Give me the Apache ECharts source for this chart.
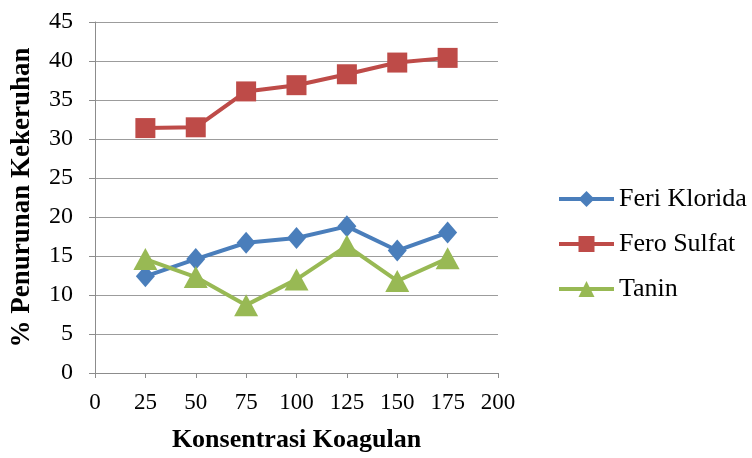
<!DOCTYPE html>
<html>
<head>
<meta charset="utf-8">
<script src="https://cdn.jsdelivr.net/npm/echarts@6/dist/echarts.min.js"></script>
<style>
html,body{margin:0;padding:0;background:#fff;}
#c{width:752px;height:458px;}
</style>
</head>
<body>
<div id="c"></div>
<script>
var xValues = [25, 50, 75, 100, 125, 150, 175];
var feriKlorida = [12.4, 14.6, 16.7, 17.3, 18.8, 15.7, 18.0];
var feroSulfat = [31.4, 31.5, 36.1, 36.9, 38.3, 39.8, 40.4];
var tanin = [14.6, 12.3, 8.7, 12.0, 16.3, 11.8, 14.7];
var seriesNames = ['Feri Klorida', 'Fero Sulfat', 'Tanin'];

function pairs(vals){ return xValues.map(function(x,i){ return [x, vals[i]]; }); }

var font = 'Liberation Serif, Times New Roman, serif';
var chart = echarts.init(document.getElementById('c'));
chart.setOption({
  animation:false,
  backgroundColor:'#fff',
  grid:{left:95,right:254,top:22,bottom:83},
  legend:{
    orient:'vertical', left:557, top:186, itemGap:19, padding:0,
    itemWidth:55, itemHeight:20,
    lineStyle:{width:4},
    textStyle:{fontFamily:font,fontSize:26,color:'#000'},
    data:seriesNames
  },
  xAxis:{
    type:'value', min:0, max:200, interval:25,
    name:'Konsentrasi Koagulan', nameLocation:'middle', nameGap:54,
    nameTextStyle:{fontFamily:font,fontSize:26,fontWeight:'bold',color:'#000'},
    axisLine:{lineStyle:{color:'#8c8c8c',width:1}},
    axisTick:{show:true,length:5,lineStyle:{color:'#8c8c8c'}},
    axisLabel:{fontFamily:font,fontSize:23,color:'#000',margin:18},
    splitLine:{show:false}
  },
  yAxis:{
    type:'value', min:0, max:45, interval:5,
    name:'% Penurunan Kekeruhan', nameLocation:'middle', nameGap:59,
    nameTextStyle:{fontFamily:font,fontSize:27,fontWeight:'bold',color:'#000'},
    axisLine:{show:true,lineStyle:{color:'#8c8c8c',width:1}},
    axisTick:{show:true,length:6,lineStyle:{color:'#8c8c8c'}},
    axisLabel:{fontFamily:font,fontSize:24,color:'#000',margin:22},
    splitLine:{lineStyle:{color:'#9c9c9c',width:1}}
  },
  series:[
    {name:seriesNames[0],type:'line',data:pairs(feriKlorida),symbol:'diamond',symbolSize:[19,22],
     lineStyle:{color:'#4A7EBB',width:4},itemStyle:{color:'#4A7EBB'}},
    {name:seriesNames[1],type:'line',data:pairs(feroSulfat),symbol:'rect',symbolSize:20,
     lineStyle:{color:'#BE4B48',width:4},itemStyle:{color:'#BE4B48'}},
    {name:seriesNames[2],type:'line',data:pairs(tanin),symbol:'triangle',symbolSize:[24,22],
     lineStyle:{color:'#98B954',width:4},itemStyle:{color:'#98B954'}}
  ]
});
</script>
</body>
</html>
